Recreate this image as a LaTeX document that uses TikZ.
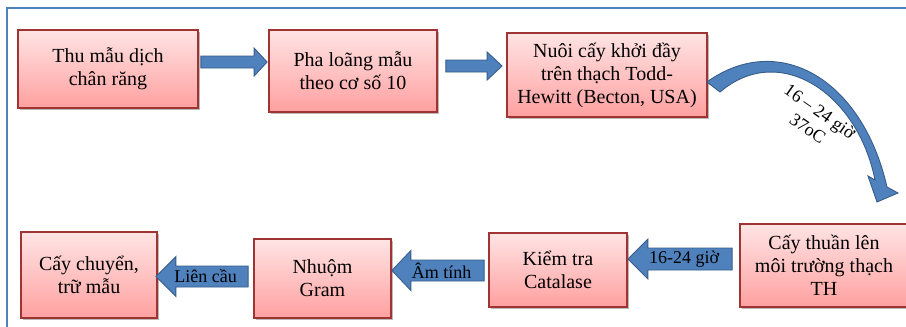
\documentclass[tikz,border=0pt]{standalone}
\usepackage{fontspec}
\setmainfont{Liberation Serif}
\usetikzlibrary{calc,shadows}
\definecolor{frameblue}{RGB}{79,129,189}
\definecolor{arrowfill}{RGB}{79,129,189}
\definecolor{arrowline}{RGB}{56,93,138}
\definecolor{boxline}{RGB}{160,52,50}
\definecolor{boxtop}{RGB}{255,228,228}
\definecolor{boxbot}{RGB}{255,160,160}
\tikzset{
  box/.style={draw=boxline, line width=1.8pt, top color=boxtop, bottom color=boxbot,
    drop shadow={shadow xshift=2pt, shadow yshift=-2pt, fill=black!45, opacity=.6},
    align=center, inner sep=2pt, font=\fontsize{20}{23}\selectfont},
  blockarrow/.style={fill=arrowfill, draw=arrowline, line width=0.9pt, line join=miter},
  arrlabel/.style={font=\fontsize{18}{21}\selectfont, inner sep=0pt},
}
\newcommand\blockarr[7]{%
  \path[blockarrow] let \p1=#1, \p2=#2, \n1={sign(\x2-\x1)} in
    (\x1,{\y1+#3pt}) -- ({\x2-\n1*#5pt},{\y1+#3pt}) -- ({\x2-\n1*#5pt},{\y1+#4pt})
    -- (\x2,\y1) -- ({\x2-\n1*#5pt},{\y1-#4pt}) -- ({\x2-\n1*#5pt},{\y1-#3pt})
    -- (\x1,{\y1-#3pt}) -- cycle;
  \node[arrlabel] (#6) at ($#1!0.46!#2$) {#7};
}
\begin{document}
\begin{tikzpicture}[x=1pt,y=-1pt]
\useasboundingbox (0,0) rectangle (906,327);
\clip (0,0) rectangle (906,327);
\fill[white] (0,0) rectangle (906,327);
% frame
\draw[frameblue, line width=2pt] (7,340) -- (7,8) -- (920,8);
% boxes
\node[box, minimum width=180pt, minimum height=78pt] (b1) at (108,69) {Thu mẫu dịch\\chân răng};
\node[box, minimum width=168pt, minimum height=82pt] (b2) at (353,71) {Pha loãng mẫu\\theo cơ số 10};
\node[box, minimum width=200pt, minimum height=84pt] (b3) at (607,75) {Nuôi cấy khởi đầy\\trên thạch Todd-\\Hewitt (Becton, USA)};
\node[box, minimum width=168pt, minimum height=83pt] (b4) at (824,265.5) {Cấy thuần lên\\môi trường thạch\\TH};
\node[box, minimum width=138pt, minimum height=74pt] (b5) at (558,270) {Kiểm tra\\Catalase};
\node[box, minimum width=137pt, minimum height=79pt] (b6) at (322.5,278.5) {Nhuộm\\Gram};
\node[box, minimum width=136pt, minimum height=86pt] (b7) at (89,275) {Cấy chuyển,\\trữ mẫu};
% straight block arrows
\blockarr{($(b1.east |- 0,62)+(2,0)$)}{($(b2.west |- 0,62)+(-1,0)$)}{6}{14}{13}{l1}{}
\blockarr{($(b2.east |- 0,66)+(8,0)$)}{($(b3.west |- 0,66)+(-4,0)$)}{6}{14}{15}{l2}{}
\blockarr{($(b4.west |- 0,259)+(-7,0)$)}{(b5.east |- 0,259)}{11}{20}{20}{l3}{16-24 giờ}
\blockarr{($(b5.west |- 0,270.5)+(-4,0)$)}{(b6.east |- 0,270.5)}{10.5}{20}{19}{l4}{Âm tính}
\blockarr{($(b6.west |- 0,276.5)+(-5,0)$)}{($(b7.east |- 0,276.5)+(-2,0)$)}{10.5}{20}{20}{l5}{Liên cầu}
% curved arrow
\coordinate (c0) at ($(b3.east)+(-1,7)$);
\path[blockarrow] (c0) .. controls (778,31) and (862,78) .. (887,187)
  -- (898,193) -- (877,202) -- (868,176) -- (875,180)
  .. controls (858,94) and (780,41) .. (720,92) -- cycle;
\node[font=\fontsize{18}{21}\selectfont, align=center, rotate=-35, inner sep=0pt] (cl) at (814,120) {16 – 24 giờ\\37oC};
\end{tikzpicture}
\end{document}
